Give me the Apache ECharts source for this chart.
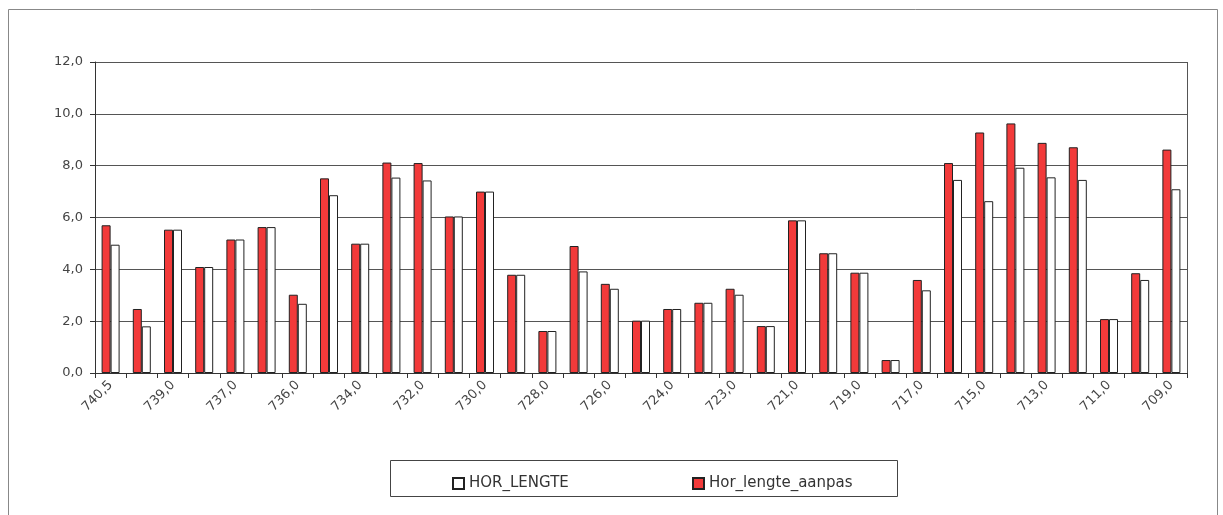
<!DOCTYPE html>
<html>
<head>
<meta charset="utf-8">
<script src="https://cdn.jsdelivr.net/npm/echarts@6/dist/echarts.min.js"></script>
<style>html,body{margin:0;padding:0;background:#fff}#c{width:1223px;height:515px}</style>
</head>
<body>
<div id="c"></div>
<script>
var categories = ['740,5','740,0','739,0','738,0','737,0','736,5','736,0','735,0','734,0','733,0','732,0','731,0','730,0','729,0','728,0','727,0','726,0','725,0','724,0','723,5','723,0','722,0','721,0','720,0','719,0','718,0','717,0','716,0','715,0','714,0','713,0','712,0','711,0','710,0','709,0'];
var horLengte = [4.95,1.80,5.53,4.09,5.15,5.63,2.67,6.86,4.99,7.54,7.43,6.04,7.00,3.79,1.62,3.92,3.25,2.02,2.47,2.71,3.02,1.81,5.89,4.62,3.87,0.50,3.19,7.45,6.63,7.92,7.55,7.45,2.08,3.59,7.09];
var horLengteAanpas = [5.70,2.47,5.53,4.09,5.15,5.63,3.02,7.51,4.99,8.12,8.10,6.04,7.00,3.79,1.62,4.90,3.44,2.02,2.47,2.71,3.25,1.81,5.89,4.62,3.87,0.50,3.59,8.10,9.28,9.63,8.88,8.71,2.08,3.85,8.62];
var yTicks = [0, 12, 2];

var chart = echarts.init(document.getElementById('c'), null, {renderer:'canvas'});
var font = 'DejaVu Sans';
chart.setOption({
  animation: false,
  backgroundColor: '#fff',
  textStyle: {fontFamily: font},
  graphic: [
    {type:'rect', shape:{x:8.5,y:9.5,width:1209,height:520}, style:{fill:'none',stroke:'#888',lineWidth:1}, silent:true},
    {type:'rect', shape:{x:390.5,y:460.5,width:507,height:36}, style:{fill:'none',stroke:'#444',lineWidth:1}, silent:true},
    {type:'line', shape:{x1:1187.5,y1:62,x2:1187.5,y2:373}, style:{stroke:'#555',lineWidth:1}, silent:true}
  ],
  legend: [
    {data:['HOR_LENGTE'], left:447, top:471, itemWidth:11, itemHeight:11, itemGap:6, icon:'rect',
     textStyle:{fontFamily:font, fontSize:15, color:'#333'}},
    {data:['Hor_lengte_aanpas'], left:687, top:471, itemWidth:11, itemHeight:11, itemGap:6, icon:'rect',
     textStyle:{fontFamily:font, fontSize:15, color:'#333'}}
  ],
  grid: {left:95, right:36, top:62, bottom:142, containLabel:false},
  xAxis: {
    type:'category', data:categories, boundaryGap:true,
    axisLine:{show:true, lineStyle:{color:'#333', width:1}},
    axisTick:{show:true, interval:0, length:5, lineStyle:{color:'#333'}},
    axisLabel:{interval:1, rotate:45, color:'#444', fontSize:13, fontFamily:font, margin:10}
  },
  yAxis: {
    type:'value', min:yTicks[0], max:yTicks[1], interval:yTicks[2],
    axisLine:{show:true, lineStyle:{color:'#333', width:1}},
    axisTick:{show:true, length:5, lineStyle:{color:'#333'}},
    axisLabel:{color:'#444', fontSize:13, fontFamily:font, margin:12,
      formatter:function(v){return v.toFixed(1).replace('.', ',');}},
    splitLine:{show:true, lineStyle:{color:'#555', width:1}}
  },
  series: [
    {name:'Hor_lengte_aanpas', type:'bar', data:horLengteAanpas, barWidth:9, barGap:'0%',
     itemStyle:{color:'#F23A3A', borderColor:'#222', borderWidth:1}},
    {name:'HOR_LENGTE', type:'bar', data:horLengte, barWidth:9, barGap:'0%',
     itemStyle:{color:'#FFFFFF', borderColor:'#222', borderWidth:1}}
  ]
});
</script>
</body>
</html>
